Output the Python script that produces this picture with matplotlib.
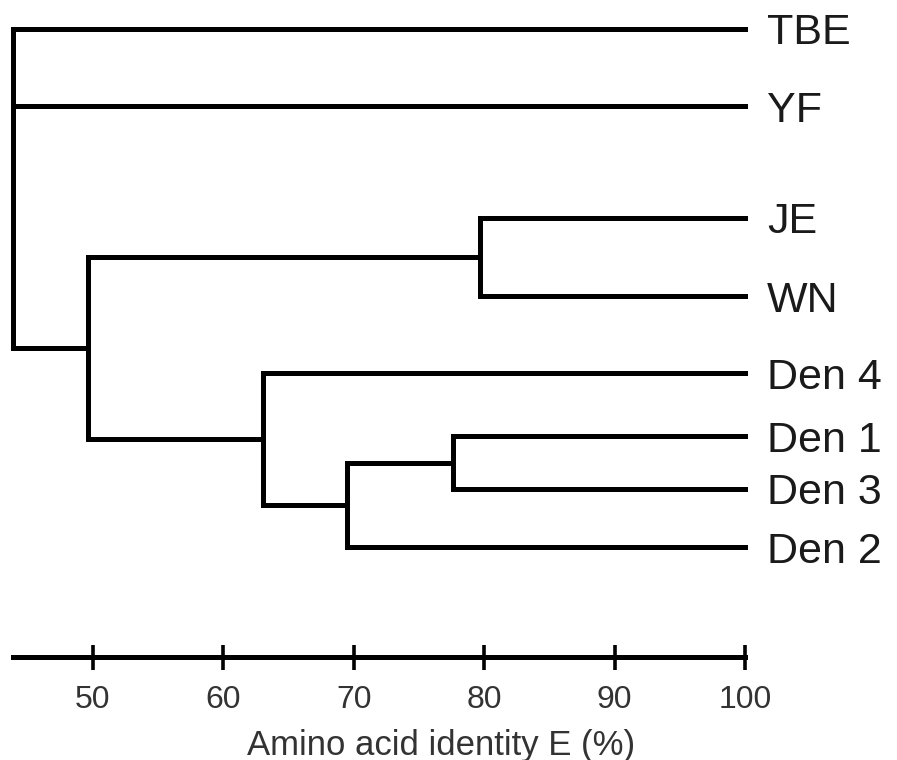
import matplotlib
matplotlib.use("Agg")
import matplotlib.pyplot as plt

plt.rcParams['font.family'] = ['Liberation Sans', 'DejaVu Sans']

# leaves, top to bottom, and their row positions
leaves = ['TBE', 'YF', 'JE', 'WN', 'Den 4', 'Den 1', 'Den 3', 'Den 2']
leaf_rows = [0.0, 1.0, 2.45, 3.47, 4.47, 5.29, 5.97, 6.73]
leaf_identity = 100

# internal nodes: (identity %, children) ; children are leaf names or node names
nodes = {
    'den13': (77.6, ['Den 1', 'Den 3']),
    'den123': (69.5, ['den13', 'Den 2']),
    'den': (63.0, ['Den 4', 'den123']),
    'jewn': (79.7, ['JE', 'WN']),
    'mosq': (49.6, ['jewn', 'den']),
    'root': (43.9, ['TBE', 'YF', 'mosq']),
}

ticks = [50, 60, 70, 80, 90, 100]
xlabel = 'Amino acid identity E (%)'

W, H = 897, 760
fig = plt.figure(figsize=(W / 100, H / 100), dpi=100)
ax = fig.add_axes([0, 0, 1, 1])
ax.axis('off')

# pixel mapping: 50 -> 93 px, 100 -> 745 px
px_per_unit = (745 - 93) / 50
x0 = 50 - 93 / px_per_unit
x1 = 50 + (W - 93) / px_per_unit
ax.set_xlim(x0, x1)
row_px = 77
ax.set_ylim((H - 29) / row_px, -29 / row_px)

lw = 3.6
pos = {name: (leaf_identity, r) for name, r in zip(leaves, leaf_rows)}


def place(name):
    if name in pos:
        return pos[name]
    x, kids = nodes[name]
    ys = []
    for k in kids:
        kx, ky = place(k)
        ax.plot([x, kx], [ky, ky], color='black', lw=lw, solid_capstyle='projecting')
        ys.append(ky)
    ax.plot([x, x], [min(ys), max(ys)], color='black', lw=lw, solid_capstyle='projecting')
    # entry point of the parent branch
    if len(ys) == 2:
        ymid = (ys[0] + ys[1]) / 2
    else:
        ymid = ys[-1]
    pos[name] = (x, ymid)
    return pos[name]


place('root')

for name, r in zip(leaves, leaf_rows):
    ax.text(leaf_identity + 1.7, r, name, fontsize=31, ha='left', va='center_baseline',
            color='#1a1a1a')

# scale bar
ax2 = fig.add_axes([0, 1 - 657 / H, 1, 0.001])
ax2.set_xlim(x0, x1)
ax2.patch.set_alpha(0)
ax2.set_yticks([])
for s in ['top', 'left', 'right']:
    ax2.spines[s].set_visible(False)
ax2.spines['bottom'].set_bounds(x0 + 13 / px_per_unit, 100)
ax2.spines['bottom'].set_linewidth(lw)
ax2.set_xticks(ticks)
ax2.set_xticklabels([str(t) for t in ticks])
ax2.tick_params(axis='x', direction='inout', length=18, width=2.6, labelsize=23,
                pad=11, labelcolor='#333333')

fig.text(441 / W, 1 - 745 / H, xlabel, fontsize=25, ha='center', va='center', color='#333333')

fig.savefig('out.png', dpi=100)
